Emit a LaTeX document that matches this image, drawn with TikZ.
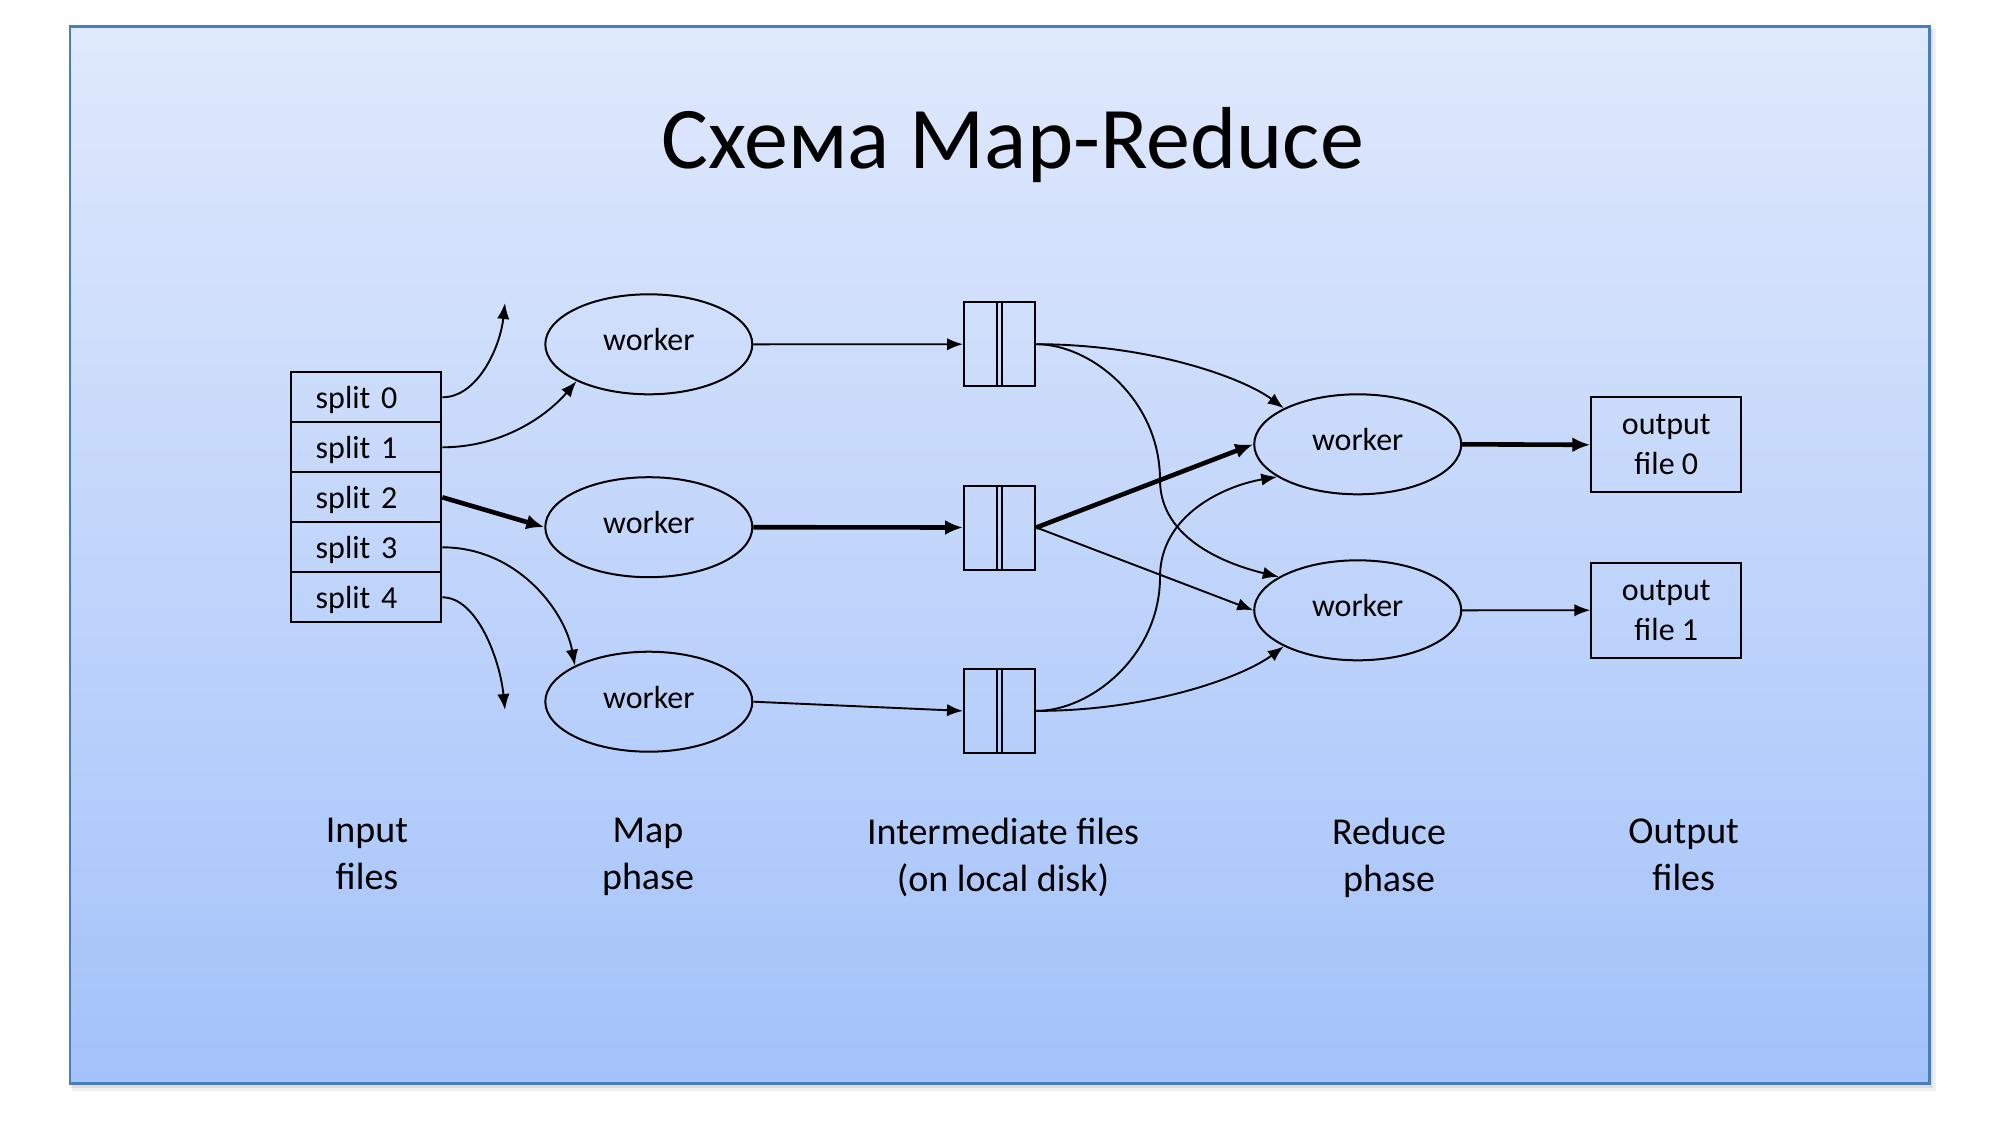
\documentclass[tikz,border=0pt]{standalone}
\usepackage{fontspec}
\setmainfont{Carlito}
\usetikzlibrary{arrows.meta,shapes.geometric}
\definecolor{bgtop}{RGB}{224,233,252}
\definecolor{bgbot}{RGB}{163,194,250}
\definecolor{framecol}{RGB}{74,126,187}
\begin{document}
\begin{tikzpicture}[x=0.5pt,y=-0.5pt,
  worker/.style={ellipse, draw, line width=1pt, minimum width=103.5pt, minimum height=50pt,
    inner sep=0pt, font=\fontsize{16}{19}\selectfont, text height=6.5pt, text depth=0pt},
  splitbox/.style={rectangle, draw, line width=1pt, minimum height=25pt, text width=50.3pt,
    inner xsep=12.5pt, inner ysep=0pt, align=left, font=\fontsize{16}{19}\selectfont,
    text height=11pt, text depth=0pt},
  interbox/.style={rectangle, draw, line width=1pt, minimum width=35.65pt, minimum height=42pt,
    inner sep=0pt,
    path picture={
      \draw[line width=0.8pt] ([xshift=-1.25pt]path picture bounding box.north) -- ([xshift=-1.25pt]path picture bounding box.south);
      \draw[line width=0.8pt] ([xshift=1.25pt]path picture bounding box.north) -- ([xshift=1.25pt]path picture bounding box.south);
    }},
  outbox/.style={rectangle, draw, line width=1pt, minimum width=75pt, minimum height=47.5pt,
    inner sep=0pt, align=center, font=\fontsize{16}{20}\selectfont},
  phaselabel/.style={anchor=north, inner sep=0pt, align=center, font=\fontsize{19}{23.5}\selectfont},
  thinarrow/.style={line width=0.95pt, -{Latex[length=8pt,width=6.2pt]}},
  thickarrow/.style={line width=2.3pt, -{Latex[length=9pt,width=7.5pt]}}
]
\useasboundingbox (0,0) rectangle (2000,1125);
% panel
\fill[black, opacity=0.06] (72,29) rectangle (1936,1091);
\fill[black, opacity=0.08] (72,29) rectangle (1933,1088);
\shade[top color=bgtop, bottom color=bgbot] (70,26.7) rectangle (1929.3,1083.3);
\draw[framecol, line width=1.25pt] (70,26.7) rectangle (1929.3,1083.3);

% title
\node[anchor=base, inner sep=0pt, font=\fontsize{44}{52}\selectfont] (title) at (1012.5,168.3) {Схема Map-Reduce};

% input splits
\node[splitbox] (s0) at (366,397.3) {split 0};
\node[splitbox] (s1) at (366,447.3) {split 1};
\node[splitbox] (s2) at (366,497.3) {split 2};
\node[splitbox] (s3) at (366,547.3) {split 3};
\node[splitbox] (s4) at (366,597.3) {split 4};

% map workers
\node[worker] (m1) at (648.8,344.3) {worker\hspace{5pt}};
\node[worker] (m2) at (648.8,527.2) {worker\hspace{5pt}};
\node[worker] (m3) at (648.8,701.7) {worker\hspace{5pt}};

% intermediate files
\node[interbox] (i1) at (999.65,344.2) {};
\node[interbox] (i2) at (999.65,527.5) {};
\node[interbox] (i3) at (999.65,710.9) {};

% reduce workers
\node[worker] (r1) at (1357.7,444.3) {worker\hspace{5pt}};
\node[worker] (r2) at (1357.7,610.3) {worker\hspace{5pt}};

% output files
\node[outbox] (o1) at (1666.3,444.8) {output\\file 0};
\node[outbox] (o2) at (1666.3,610.2) {output\\file 1};

% free ends and bend points
\coordinate (f0) at (505,303);
\coordinate (f4) at (505,710);
\coordinate (bend1) at (1160,480);
\coordinate (bend3) at (1160,577);

% input -> map
\draw[thinarrow] (s0.east) .. controls +(35,0) and +(-5,45) .. (f0);
\draw[thinarrow] (s1.east) .. controls +(60,0) and +(-30,35) .. (m1.207);
\draw[thickarrow] (s2.east) -- (m2.west);
\draw[thinarrow] (s3.east) .. controls +(75,0) and +(-10,-55) .. (m3.154);
\draw[thinarrow] (s4.east) .. controls +(35,0) and +(-5,-50) .. (f4);

% map -> intermediate
\draw[thinarrow] (m1.east) -- (i1.west);
\draw[thickarrow] (m2.east) -- (i2.west);
\draw[thinarrow] (m3.east) -- (i3.west);

% intermediate -> reduce
\draw[thinarrow] (i1.east) .. controls +(115,0) and +(-40,-30) .. (r1.154);
\draw[thinarrow] (i1.east) .. controls +(55,0) and +(0,-80) .. (bend1)
  .. controls +(0,60) and +(-50,-12) .. (r2.157);
\draw[thickarrow] (i2.east) -- (r1.west);
\draw[thinarrow] (i2.east) -- (r2.west);
\draw[thinarrow] (i3.east) .. controls +(55,0) and +(0,78) .. (bend3)
  .. controls +(0,-62) and +(-53,9) .. (r1.202);
\draw[thinarrow] (i3.east) .. controls +(115,0) and +(-40,30) .. (r2.206);

% reduce -> output
\draw[thickarrow] (r1.east) -- (o1.west);
\draw[thinarrow] (r2.east) -- (o2.west);

% phase labels
\node[phaselabel] (l1) at (367,818) {Input\\files};
\node[phaselabel] (l2) at (648,818) {Map\\phase};
\node[phaselabel] (l3) at (1003,818) {Intermediate files\\(on local disk)};
\node[phaselabel] (l4) at (1389,818) {Reduce\\phase};
\node[phaselabel] (l5) at (1683.7,818) {Output\\files};
\end{tikzpicture}
\end{document}
